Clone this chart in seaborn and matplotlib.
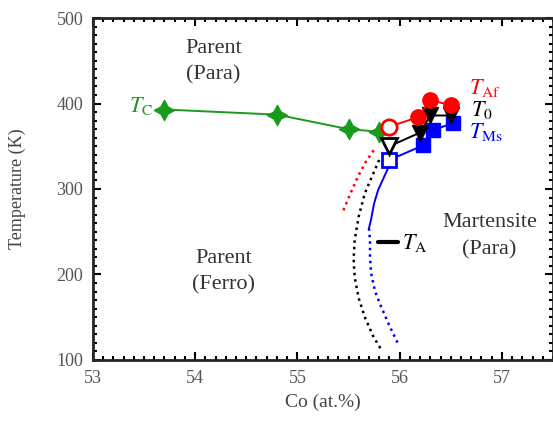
import numpy as np
import matplotlib
matplotlib.use("Agg")
import matplotlib.pyplot as plt
import seaborn as sns
from matplotlib.ticker import MultipleLocator

# T_C (Curie temperature of parent)
tc_co = [53.7, 54.8, 55.5, 55.8]
tc_t = [393, 387, 370, 367]

# T_Af, T_0, T_Ms (first point open, rest filled)
af_co = [55.9, 56.18, 56.3, 56.5]
af_t = [373, 384, 404, 398]
t0_co = [55.9, 56.2, 56.3, 56.5]
t0_t = [350, 366, 386, 386]
ms_co = [55.9, 56.23, 56.33, 56.52]
ms_t = [334, 351, 369, 377]

# extrapolated boundaries
red_dot_co = [55.45, 55.52, 55.59, 55.67, 55.75]
red_dot_t = [275, 295, 314, 332, 346]
blk_dot_co = [55.80, 55.72, 55.66, 55.60, 55.56, 55.55, 55.56, 55.60, 55.66, 55.74, 55.82]
blk_dot_t = [334, 312, 295, 268, 240, 218, 197, 172, 150, 128, 112]
blue_sol_co = [55.90, 55.84, 55.79, 55.75, 55.72, 55.70]
blue_sol_t = [328, 312, 299, 283, 264, 254]
blue_dot_co = [55.70, 55.71, 55.71, 55.72, 55.76, 55.82, 55.90, 55.98]
blue_dot_t = [254, 240, 222, 202, 180, 162, 140, 120]

ta_co = [55.79, 55.98]
ta_t = [238, 238]

sns.set_theme(style="ticks")
plt.rcParams["font.family"] = ["Liberation Serif", "DejaVu Serif"]
plt.rcParams["mathtext.fontset"] = "stix"

fig = plt.figure(figsize=(5.53, 4.30), dpi=100)
ax = fig.add_axes([0.168, 0.163, 0.832, 0.795])

red = "#ff0000"
blue = "#0000ff"
green = "#1a9a1a"
dots = (0, (1, 1.6))
line = dict(sort=False, estimator=None, ax=ax)

sns.lineplot(x=red_dot_co, y=red_dot_t, color=red, lw=1.8, ls=dots, **line)
sns.lineplot(x=blk_dot_co, y=blk_dot_t, color="black", lw=1.8, ls=dots, **line)
sns.lineplot(x=blue_sol_co, y=blue_sol_t, color=blue, lw=1.4, **line)
sns.lineplot(x=blue_dot_co, y=blue_dot_t, color=blue, lw=1.8, ls=dots, **line)
sns.lineplot(x=ta_co, y=ta_t, color="black", lw=3, **line)

sns.lineplot(x=tc_co, y=tc_t, color=green, lw=1.4, marker=(4, 1, 0),
             markersize=15, markeredgecolor=green, **line)

for co, t, c, m, ms in [(ms_co, ms_t, blue, "s", 10),
                        (t0_co, t0_t, "black", "v", 11),
                        (af_co, af_t, red, "o", 11)]:
    sns.lineplot(x=co, y=t, color=c, lw=1.4, **line)
    ax.plot(co[1:], t[1:], ls="none", marker=m, ms=ms, color=c, mec=c)
    ax.plot(co[:1], t[:1], ls="none", marker=m, ms=ms, mfc="white", mec=c, mew=2)

ax.set_xlim(53, 57.5)
ax.set_ylim(100, 500)
ax.xaxis.set_major_locator(MultipleLocator(1))
ax.xaxis.set_minor_locator(MultipleLocator(0.1))
ax.yaxis.set_major_locator(MultipleLocator(100))
ax.yaxis.set_minor_locator(MultipleLocator(10))
ax.tick_params(which="both", direction="in", top=True, right=True, colors="black",
               labelcolor="#555555", labelsize=13, width=1.5)
ax.tick_params(which="major", length=6, pad=7)
ax.tick_params(which="minor", length=3)
for s in ax.spines.values():
    s.set_linewidth(2)

ax.set_xlabel("Co (at.%)", fontsize=14, color="#444444", labelpad=5)
ax.set_ylabel("Temperature (K)", fontsize=13, color="#444444", labelpad=22)

tk = dict(ha="center", va="center", fontsize=16, color="#333333", linespacing=1.55)
ax.text(54.18, 449, "Parent\n(Para)", **tk)
ax.text(54.28, 203, "Parent\n(Ferro)", **tk)
ax.text(56.88, 245, "Martensite\n(Para)", **tk)

tl = dict(fontsize=16, ha="center", va="center")
ax.text(53.47, 397, r"$T_\mathrm{C}$", color=green, **tl)
ax.text(56.83, 418, r"$T_\mathrm{Af}$", color=red, **tl)
ax.text(56.8, 393, r"$T_0$", color="black", **tl)
ax.text(56.84, 367, r"$T_\mathrm{Ms}$", color=blue, **tl)
ax.text(56.02, 237, r"$T_\mathrm{A}$", color="black", fontsize=16, ha="left", va="center")

fig.savefig("out.png", dpi=100)
